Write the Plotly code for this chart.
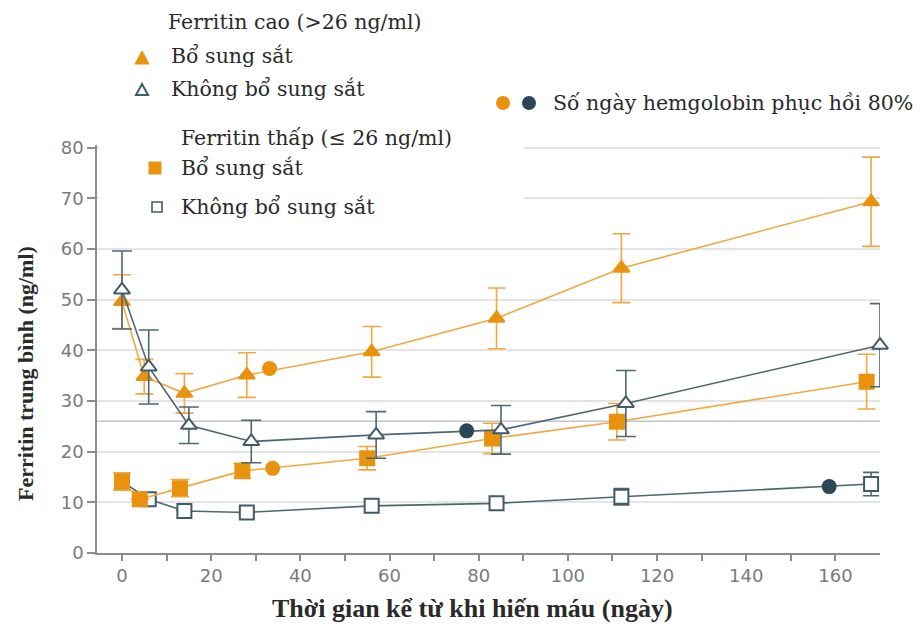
import unicodedata
import plotly.graph_objects as go

# ---- data -------------------------------------------------------------
# High ferritin (>26 ng/ml), iron supplemented
days_high_iron = [0, 5, 14, 28, 56, 84, 112, 168]
ferr_high_iron = [49.6, 34.8, 31.5, 35.1, 39.7, 46.3, 56.2, 69.3]
err_high_iron = [5.3, 3.4, 3.9, 4.4, 5.0, 6.0, 6.8, 8.8]

# High ferritin (>26 ng/ml), no iron
days_high_none = [0, 6, 15, 29, 57, 85, 113, 170]
ferr_high_none = [51.9, 36.7, 25.2, 22.0, 23.3, 24.3, 29.5, 41.0]
err_high_none = [7.7, 7.3, 3.6, 4.2, 4.6, 4.8, 6.5, 8.2]

# Low ferritin (<=26 ng/ml), iron supplemented
days_low_iron = [0, 4, 13, 27, 55, 83, 111, 167]
ferr_low_iron = [14.1, 10.6, 12.8, 16.2, 18.7, 22.6, 25.9, 33.8]
err_low_iron = [1.7, None, 1.7, 1.5, 2.3, 3.0, 3.6, 5.4]

# Low ferritin (<=26 ng/ml), no iron
days_low_none = [0, 6, 14, 28, 56, 84, 112, 168]
ferr_low_none = [14.1, 10.6, 8.3, 8.0, 9.3, 9.8, 11.1, 13.6]
err_low_none = [None, None, None, None, None, None, 1.6, 2.3]

# Day on which hemoglobin recovered 80%
recov_iron_days = [33.1, 33.8]
recov_iron_ferr = [36.4, 16.7]
recov_none_days = [77.3, 158.6]
recov_none_ferr = [24.1, 13.1]

THRESHOLD = 26
x_tickvals = list(range(0, 170, 10))
x_ticktext = [str(v) if v % 20 == 0 else "" for v in x_tickvals]
y_tickvals = list(range(0, 90, 10))

# ---- style ------------------------------------------------------------
ORANGE = "#E8920E"
ORANGE_LINE = "#F0A840"
SLATE = "#3F5A68"
SLATE_LINE = "#4E6673"
DARK = "#2C4856"
TITLE_FONT = "Liberation Serif"
LEGEND_FONT = "DejaVu Serif"
TEXT = "#2a2a2a"

W, H = 924, 628
L, R, T, B = 97, 44, 145, 75
PW, PH = W - L - R, H - T - B


def px_x(px):
    return (px - L) / PW


def px_y(py):
    return (H - B - py) / PH


fig = go.Figure()


def series(x, y, err, color, line_color, symbol, filled, cap):
    fig.add_trace(go.Scatter(
        x=x, y=y, mode="lines+markers", cliponaxis=False,
        line=dict(color=line_color, width=1.6),
        marker=dict(symbol=symbol, size=14,
                    color=color if filled else "white",
                    line=dict(color=color, width=2)),
        error_y=dict(type="data", array=err, visible=True,
                     color=line_color, thickness=1.6, width=cap),
        showlegend=False, hoverinfo="x+y",
    ))


series(days_low_none, ferr_low_none, err_low_none, SLATE, SLATE_LINE, "square", False, 8)
series(days_low_iron, ferr_low_iron, err_low_iron, ORANGE, ORANGE_LINE, "square", True, 9)
series(days_high_iron, ferr_high_iron, err_high_iron, ORANGE, ORANGE_LINE, "triangle-up", True, 9)
series(days_high_none, ferr_high_none, err_high_none, SLATE, SLATE_LINE, "triangle-up", False, 10)

fig.add_trace(go.Scatter(x=recov_iron_days, y=recov_iron_ferr, mode="markers",
                         marker=dict(symbol="circle", size=15, color=ORANGE),
                         showlegend=False))
fig.add_trace(go.Scatter(x=recov_none_days, y=recov_none_ferr, mode="markers",
                         marker=dict(symbol="circle", size=15, color=DARK),
                         showlegend=False))

shapes = [
    # threshold at 26 ng/ml
    dict(type="line", xref="paper", x0=0, x1=1, yref="y", y0=THRESHOLD, y1=THRESHOLD,
         line=dict(color="#C4C4C4", width=1.6), layer="between"),
    # white panel behind the low-ferritin legend block
    dict(type="rect", xref="x", yref="y", x0=-5.2, x1=90, y0=64.2, y1=80.6,
         fillcolor="white", line=dict(width=0), layer="between"),
]


def glyph(cx, cy, path, fill, stroke, width=2):
    shapes.append(dict(type="path", xref="paper", yref="paper",
                       xsizemode="pixel", ysizemode="pixel",
                       xanchor=px_x(cx), yanchor=px_y(cy), path=path,
                       fillcolor=fill, line=dict(color=stroke, width=width)))


TRI = "M -7,-6 L 7,-6 L 0,7 Z"
TRI_S = "M -6,-5 L 6,-5 L 0,6 Z"
SQ = "M -6,-6 L 6,-6 L 6,6 L -6,6 Z"
SQ_S = "M -5,-5 L 5,-5 L 5,5 L -5,5 Z"
glyph(142, 58, TRI, ORANGE, ORANGE, 1)
glyph(142, 90, TRI_S, "white", SLATE, 2)
glyph(155, 168, SQ, ORANGE, ORANGE, 1)
glyph(157, 207, SQ_S, "white", SLATE, 1.6)
for cx, col in ((503, ORANGE), (529, DARK)):
    shapes.append(dict(type="circle", xref="paper", yref="paper",
                       xsizemode="pixel", ysizemode="pixel",
                       xanchor=px_x(cx), yanchor=px_y(103),
                       x0=-7, x1=7, y0=-7, y1=7,
                       fillcolor=col, line=dict(width=0)))


def label(px, py, text, size=20.5, bold=False, angle=0, anchor="left", family=LEGEND_FONT):
    return dict(x=px_x(px), y=px_y(py), xref="paper", yref="paper",
                text=unicodedata.normalize("NFC", text), showarrow=False,
                xanchor=anchor, yanchor="middle", textangle=angle,
                font=dict(family=family, size=size, color=TEXT,
                          weight="bold" if bold else "normal"))


annotations = [
    label(166, 22, "Ferritin cao (>26 ng/ml)"),
    label(169, 56, "Bổ sung sắt"),
    label(169, 89, "Không bổ sung sắt"),
    label(179, 138, "Ferritin thấp (≤ 26 ng/ml)"),
    label(179, 168, "Bổ sung sắt"),
    label(179, 207, "Không bổ sung sắt"),
    label(551, 103, "Số ngày hemgolobin phục hồi 80%"),
    label(472, 608, "Thời gian kể từ khi hiến máu (ngày)", size=26, bold=True,
          anchor="center", family=TITLE_FONT),
    label(25, 374, "Ferritin trung bình (ng/ml)", size=22, bold=True, angle=-90,
          anchor="center", family=TITLE_FONT),
]

fig.update_layout(
    width=W, height=H,
    margin=dict(l=L, r=R, t=T, b=B, pad=0),
    paper_bgcolor="white", plot_bgcolor="white",
    shapes=shapes, annotations=annotations,
    xaxis=dict(range=[-5.6, 170], tickvals=x_tickvals, ticktext=x_ticktext,
               showgrid=False, zeroline=False, showline=True,
               linecolor="#8c8c8c", linewidth=1.5,
               ticks="outside", ticklen=6, tickwidth=1.5, tickcolor="#8c8c8c",
               tickfont=dict(family="DejaVu Sans", size=18, color="#7a7a7a")),
    yaxis=dict(range=[0, 80.5], tickvals=y_tickvals,
               showgrid=True, gridcolor="#E4E4E4", gridwidth=1.5,
               zeroline=False, showline=True,
               linecolor="#8c8c8c", linewidth=1.5,
               ticks="outside", ticklen=8, tickwidth=1.5, tickcolor="#8c8c8c",
               tickfont=dict(family="DejaVu Sans", size=18, color="#7a7a7a")),
)

fig.write_html("out.html")
